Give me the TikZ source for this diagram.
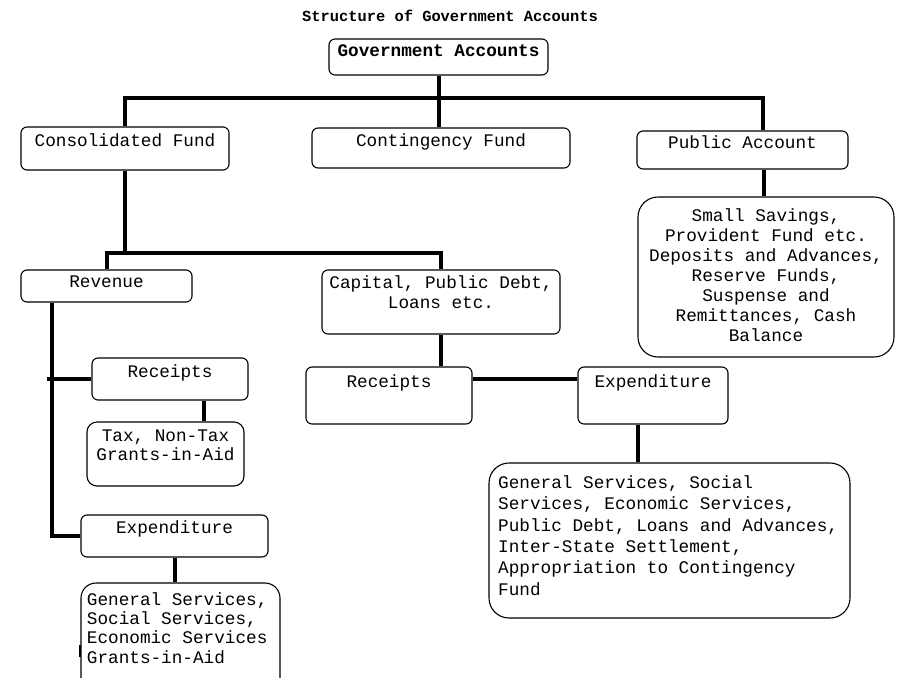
\documentclass[tikz,border=0pt]{standalone}
\usepackage{fontspec}
\newfontfamily\gamono{Liberation Mono}
\newcommand\gafl{\rule{0pt}{15pt}}
\newcommand\gafont[1]{\gamono\fontsize{17.7}{#1}\selectfont}
\begin{document}
\begin{tikzpicture}[x=1pt,y=-1pt,
  box/.style={draw, line width=1.1pt, rounded corners=6pt, inner sep=0pt},
  conn/.style={line width=4pt, line join=miter},
  txt/.style={font=\gafont{20}, inner sep=0pt, anchor=north, align=center},
  ltxt/.style={inner sep=0pt, anchor=north west, align=left},
]
\path[use as bounding box, fill=white] (0,0) rectangle (899,677);

% boxes
\node[box, minimum width=219pt, minimum height=36pt] (gov) at (438.5,57) {};
\node[box, minimum width=208pt, minimum height=43pt] (cf) at (125,148.5) {};
\node[box, minimum width=258pt, minimum height=40pt] (cont) at (441,148) {};
\node[box, minimum width=211pt, minimum height=38pt] (pa) at (742.5,150) {};
\node[box, rounded corners=20pt, minimum width=256pt, minimum height=160pt] (pabox) at (766,277) {};
\node[box, minimum width=171pt, minimum height=32pt] (rev) at (106.5,286) {};
\node[box, minimum width=238pt, minimum height=64pt] (cap) at (441,302) {};
\node[box, minimum width=156pt, minimum height=42pt] (rec1) at (170,379) {};
\node[box, rounded corners=10pt, minimum width=157pt, minimum height=64pt] (tax) at (165.5,454) {};
\node[box, minimum width=187pt, minimum height=42pt] (exp1) at (174.5,536) {};
\node[box, rounded corners=15pt, minimum width=199pt, minimum height=112pt] (gs) at (180.5,639) {};
\node[box, minimum width=166pt, minimum height=57pt] (rec2) at (389,395.5) {};
\node[box, minimum width=150pt, minimum height=57pt] (exp2) at (653,395.5) {};
\node[box, rounded corners=20pt, minimum width=361pt, minimum height=155pt] (big) at (669.5,540.5) {};

% texts
\node[font=\gamono\bfseries\fontsize{15.4}{18}\selectfont, anchor=base, inner sep=0pt] (title) at (450,21.5) {Structure of Government Accounts};
\node[txt] (t-gov) at (438.5,41) {\bfseries\gafl Government Accounts};
\node[txt] (t-cf) at (125,131) {\gafl Consolidated Fund};
\node[txt] (t-cont) at (441,131) {\gafl Contingency Fund};
\node[txt] (t-pa) at (742.5,133) {\gafl Public Account};
\node[txt] (t-pabox) at (766,206) {\gafl Small Savings,\\Provident Fund etc.\\Deposits and Advances,\\Reserve Funds,\\Suspense and\\Remittances, Cash\\Balance};
\node[txt] (t-rev) at (106.5,272) {\gafl Revenue};
\node[txt] (t-cap) at (441,273) {\gafl Capital, Public Debt,\\Loans etc.};
\node[txt] (t-rec1) at (170,362) {\gafl Receipts};
\node[txt, font=\gafont{18.5}] (t-tax) at (165.5,426.7) {\gafl Tax, Non-Tax\\Grants-in-Aid};
\node[txt] (t-exp1) at (174.5,518) {\gafl Expenditure};
\node[ltxt, font=\gafont{19.3}] (t-gs) at (86.7,590) {\gafl General Services,\\Social Services,\\Economic Services\\Grants-in-Aid};
\node[txt] (t-rec2) at (389,372) {\gafl Receipts};
\node[txt] (t-exp2) at (653,372) {\gafl Expenditure};
\node[ltxt, font=\gafont{21.4}] (t-big) at (498,473) {\gafl General Services, Social\\Services, Economic Services,\\Public Debt, Loans and Advances,\\Inter-State Settlement,\\Appropriation to Contingency\\Fund};

% connector helper coordinates
\coordinate (bar1) at (0,98);
\coordinate (bar1r) at (763,98);
\coordinate (pav) at (764,0);
\coordinate (bar2) at (0,253);
\coordinate (caph) at (0,379);
\coordinate (e2v) at (637.5,0);
\coordinate (revv) at (51.7,0);
\coordinate (revx) at (47,379);
\coordinate (rtv) at (204,0);

% connectors
\draw[conn] (gov.south) -- (gov.south |- cont.north);
\draw[conn] (cf.north) -- (cf.north |- bar1) -- (bar1r) -- (bar1r |- pa.north);
\draw[conn] (pav |- pa.south) -- (pav |- pabox.north);
\draw[conn] (cf.south) -- (cf.south |- bar2);
\draw[conn] (rev.north) -- (rev.north |- bar2) -- (cap.north |- bar2) -- (cap.north);
\draw[conn] (cap.south) -- (cap.south |- rec2.north);
\draw[conn] (rec2.east |- caph) -- (exp2.west |- caph);
\draw[conn] (e2v |- exp2.south) -- (e2v |- big.north);
\draw[conn] (revv |- rev.south) -- (revv |- exp1.west) -- (exp1.west);
\draw[conn] (revx) -- (rec1.west);
\draw[conn] (rtv |- rec1.south) -- (rtv |- tax.north);
\draw[conn] (exp1.south) -- (exp1.south |- gs.north);
\draw[line width=2.5pt] (80,645) -- (80,657);
\end{tikzpicture}
\end{document}
